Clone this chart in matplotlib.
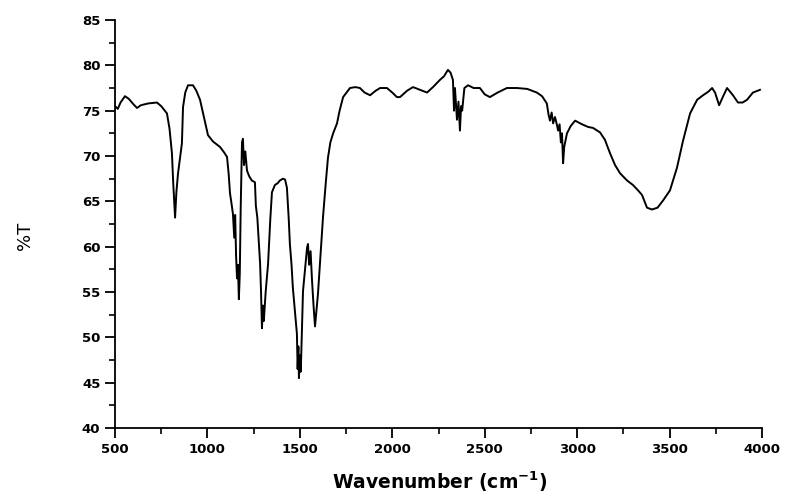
import numpy as np
import matplotlib
matplotlib.use("Agg")
import matplotlib.pyplot as plt
from matplotlib.ticker import MultipleLocator

# wavenumber (cm-1) and transmittance (%T)
wavenumber = [
    500, 515, 530, 554, 575, 600, 619, 640, 680, 727, 750, 781, 795, 808, 815, 825,
    832, 841, 862, 868, 880, 895, 922, 940, 960, 1003, 1030, 1068, 1090, 1106, 1115,
    1122, 1130, 1138, 1145, 1150, 1155, 1160, 1165, 1170, 1175, 1180, 1187, 1192,
    1198, 1205, 1214, 1225, 1240, 1257, 1262, 1270, 1278, 1285, 1290, 1295, 1300,
    1305, 1315, 1328, 1340, 1349, 1365, 1380, 1392, 1409, 1420, 1430, 1440, 1446,
    1455, 1462, 1475, 1484, 1488, 1492, 1495, 1500, 1505, 1510, 1517, 1528, 1539,
    1544, 1550, 1558, 1566, 1574, 1582, 1590, 1598, 1610, 1625, 1640, 1652, 1665,
    1680, 1701, 1715, 1734, 1771, 1800, 1825, 1850, 1880, 1910, 1934, 1971, 2000,
    2025, 2042, 2080, 2112, 2150, 2188, 2220, 2258, 2280, 2301, 2315, 2328, 2334,
    2339, 2350, 2358, 2366, 2372, 2378, 2390, 2410, 2440, 2474, 2500, 2528, 2570,
    2620, 2674, 2730, 2782, 2810, 2836, 2845, 2853, 2862, 2870, 2880, 2890, 2897,
    2905, 2912, 2918, 2924, 2930, 2945, 2965, 2989, 3026, 3060, 3086, 3124, 3150,
    3178, 3205, 3232, 3270, 3302, 3330, 3351, 3378, 3405, 3435, 3465, 3502, 3540,
    3573, 3611, 3649, 3681, 3710, 3730, 3746, 3768, 3790, 3811, 3843, 3870, 3895,
    3919, 3951, 3989,
]
transmittance = [
    75.5, 75.2, 75.9, 76.6, 76.3, 75.7, 75.3, 75.6, 75.8, 75.9, 75.5, 74.7, 73.0,
    70.3, 67.0, 63.2, 66.0, 68.1, 71.4, 75.4, 77.0, 77.8, 77.8, 77.2, 76.2, 72.3,
    71.6, 71.0, 70.4, 69.9, 68.0, 65.9, 64.8, 63.6, 61.0, 63.5, 59.0, 56.5, 58.0,
    54.2, 57.0, 64.3, 71.5, 71.9, 69.0, 70.5, 68.4, 67.8, 67.3, 67.1, 64.5, 63.2,
    60.5, 58.1, 55.0, 51.0, 53.5, 51.8, 55.0, 58.1, 63.0, 66.0, 66.8, 67.0, 67.3,
    67.5, 67.4, 66.5, 63.0, 60.3, 58.0, 55.5, 52.5, 50.4, 46.5, 49.0, 45.5, 48.0,
    46.2, 50.0, 55.1, 57.5, 59.9, 60.3, 58.0, 59.5, 56.2, 53.5, 51.2, 53.0, 54.8,
    58.5, 63.2, 67.0, 69.8, 71.5, 72.5, 73.6, 75.0, 76.5, 77.5, 77.6, 77.5, 77.0,
    76.7, 77.2, 77.5, 77.5, 77.0, 76.5, 76.5, 77.2, 77.6, 77.3, 77.0, 77.6, 78.4,
    78.8, 79.5, 79.2, 78.4, 75.0, 77.5, 74.0, 76.0, 72.8, 75.5, 75.0, 77.5, 77.8,
    77.5, 77.5, 76.8, 76.5, 77.0, 77.5, 77.5, 77.4, 77.0, 76.6, 75.8, 74.6, 73.9,
    74.8, 73.6, 74.3, 73.5, 72.8, 73.5, 71.5, 72.5, 69.2, 71.0, 72.5, 73.3, 73.9,
    73.5, 73.2, 73.1, 72.6, 71.8, 70.3, 69.0, 68.1, 67.3, 66.8, 66.2, 65.7, 64.3,
    64.1, 64.3, 65.1, 66.2, 68.7, 71.7, 74.7, 76.2, 76.7, 77.1, 77.5, 77.0, 75.6,
    76.6, 77.5, 76.7, 75.9, 75.9, 76.2, 77.0, 77.3,
]

x_ticks = [500, 1000, 1500, 2000, 2500, 3000, 3500, 4000]
y_ticks = [40, 45, 50, 55, 60, 65, 70, 75, 80, 85]

fig = plt.figure(figsize=(7.85, 4.98), dpi=100)
ax = fig.add_axes([0.1465, 0.1406, 0.8242, 0.8192])

ax.plot(wavenumber, transmittance, color="black", linewidth=1.4)

ax.set_xlim(500, 4000)
ax.set_ylim(40, 85)
ax.set_xticks(x_ticks)
ax.set_yticks(y_ticks)
ax.xaxis.set_minor_locator(MultipleLocator(250))
ax.yaxis.set_minor_locator(MultipleLocator(2.5))

ax.spines["top"].set_visible(False)
ax.spines["right"].set_visible(False)
for s in ("left", "bottom"):
    ax.spines[s].set_linewidth(1.3)

ax.tick_params(which="major", direction="out", length=7, width=1.3,
               labelsize=9.5)
ax.tick_params(which="minor", direction="out", length=4, width=1.2)
for lbl in ax.get_xticklabels() + ax.get_yticklabels():
    lbl.set_fontweight("bold")

ax.set_xlabel("Wavenumber (cm$^{\\mathbf{-1}}$)", fontsize=13.5, fontweight="bold",
              va="center")
ax.xaxis.set_label_coords(0.502, -0.132)
ax.set_ylabel("%T", fontsize=13, va="center")
ax.yaxis.set_label_coords(-0.139, 0.47)

fig.savefig("out.png", dpi=100)
